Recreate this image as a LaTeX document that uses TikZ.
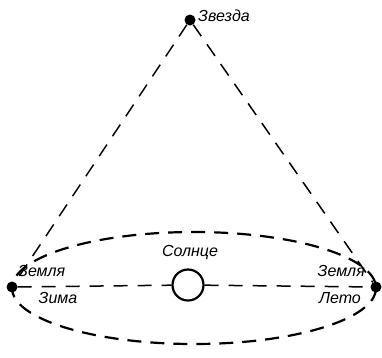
\documentclass[tikz,border=0pt]{standalone}
\usepackage{fontspec}
\setmainfont{Liberation Sans}
\begin{document}
\begin{tikzpicture}[x=1pt,y=-1pt,
  orbit/.style={line width=2.2pt,dash pattern=on 14pt off 9pt},
  ray/.style={line width=1.5pt,dash pattern=on 14pt off 10pt},
  dotnode/.style={circle,fill=black,inner sep=0pt,minimum size=11pt},
  lbl/.style={font=\itshape\fontsize{16}{18}\selectfont,inner sep=1pt}]
\useasboundingbox (0,0) rectangle (382,357);
\node[dotnode] (star) at (190,20) {};
\node[dotnode] (e1) at (12,287) {};
\node[dotnode] (e2) at (376,287) {};
\node[circle,draw,line width=2.2pt,minimum size=31pt,inner sep=0pt] (sun) at (188,285) {};
\draw[orbit] (194,288) ellipse (182 and 56);
\draw[ray] (star) -- (e1);
\draw[ray] (star) -- (e2);
\draw[ray] (e1) -- (sun);
\draw[ray] (sun) -- (e2);
\node[lbl,anchor=west] (zv) at (197,16) {Звезда};
\node[lbl] (so) at (190,252) {Солнце};
\node[lbl,anchor=west] (z1) at (17,271) {Земля};
\node[lbl] (zi) at (58,298) {Зима};
\node[lbl,anchor=east] (z2) at (366,271) {Земля};
\node[lbl] (le) at (340,298) {Лето};
\end{tikzpicture}
\end{document}
